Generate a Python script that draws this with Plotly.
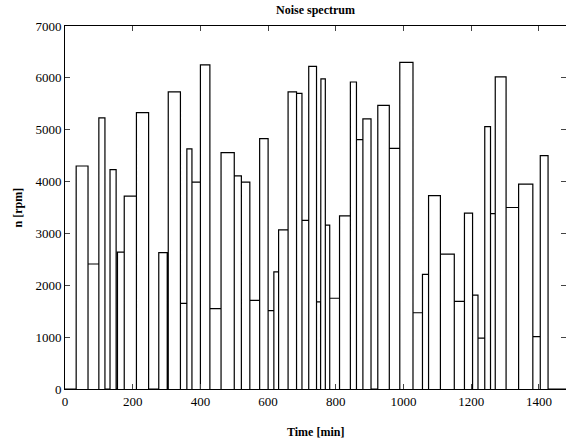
import plotly.graph_objects as go

# Operating segments: start time [min], end time [min], speed [rpm]
seg_start = [33, 68, 100, 133, 155, 175, 211, 277, 305, 341, 360, 375, 400, 428,
             461, 500, 521, 546, 575, 600, 617, 631, 659, 684, 700, 720, 743, 756,
             769, 782, 811, 843, 861, 880, 924, 958, 989, 1028, 1056, 1074, 1109,
             1150, 1180, 1204, 1220, 1240, 1257, 1271, 1303, 1340, 1382, 1404]
seg_end = [68, 100, 118, 151, 175, 211, 247, 302, 341, 360, 375, 400, 428, 461,
           500, 521, 546, 575, 600, 617, 631, 659, 684, 700, 720, 743, 755, 769,
           782, 811, 843, 861, 880, 904, 958, 989, 1028, 1056, 1074, 1109, 1150,
           1180, 1204, 1220, 1240, 1257, 1271, 1303, 1340, 1382, 1404, 1427]
speed_rpm = [4300, 2410, 5230, 4230, 2640, 3720, 5330, 2630, 5730, 1650, 4630, 3990,
             6250, 1550, 4560, 4110, 3990, 1710, 4830, 1510, 2260, 3070, 5730, 5700,
             3250, 6220, 1680, 5980, 3160, 1750, 3340, 5920, 4810, 5210, 5470, 4640,
             6300, 1470, 2210, 3730, 2600, 1690, 3390, 1810, 980, 5060, 3380, 6020,
             3500, 3950, 1010, 4500]

x_ticks = [0, 200, 400, 600, 800, 1000, 1200, 1400]
y_ticks = [0, 1000, 2000, 3000, 4000, 5000, 6000, 7000]

# Each segment is outlined as a box standing on the zero line
xs, ys = [0], [0]
for t0, t1, n in zip(seg_start, seg_end, speed_rpm):
    xs += [t0, t0, t1, t1]
    ys += [0, n, n, 0]
xs.append(1480)
ys.append(0)

fig = go.Figure(go.Scatter(x=xs, y=ys, mode="lines",
                           line=dict(color="black", width=1.2),
                           hoverinfo="skip"))

serif = "Liberation Serif"
fig.update_layout(
    width=566, height=443,
    margin=dict(l=65, r=0, t=26, b=54),
    paper_bgcolor="white", plot_bgcolor="white",
    showlegend=False,
    font=dict(family=serif, size=13, color="black"),
)
fig.update_xaxes(range=[0, 1480], tickvals=x_ticks, ticks="inside", ticklen=5,
                 showline=True, linecolor="black", linewidth=1, mirror="ticks",
                 showgrid=False, zeroline=False, tickfont=dict(size=13))
fig.update_yaxes(range=[0, 7000], tickvals=y_ticks, ticks="inside", ticklen=5,
                 showline=True, linecolor="black", linewidth=1, mirror="ticks",
                 showgrid=False, zeroline=False, tickfont=dict(size=13))

fig.add_annotation(text="<b>Noise spectrum</b>", xref="paper", yref="paper",
                   x=0.5, y=1, yshift=25, showarrow=False,
                   font=dict(family=serif, size=12))
fig.add_annotation(text="<b>Time [min]</b>", xref="paper", yref="paper",
                   x=0.5, y=0, yshift=-52, showarrow=False,
                   font=dict(family=serif, size=12))
fig.add_annotation(text="<b>n [rpm]</b>", xref="paper", yref="paper",
                   x=0, y=0.5, xshift=-57, textangle=-90, showarrow=False,
                   font=dict(family=serif, size=12))

fig.write_html("out.html")
